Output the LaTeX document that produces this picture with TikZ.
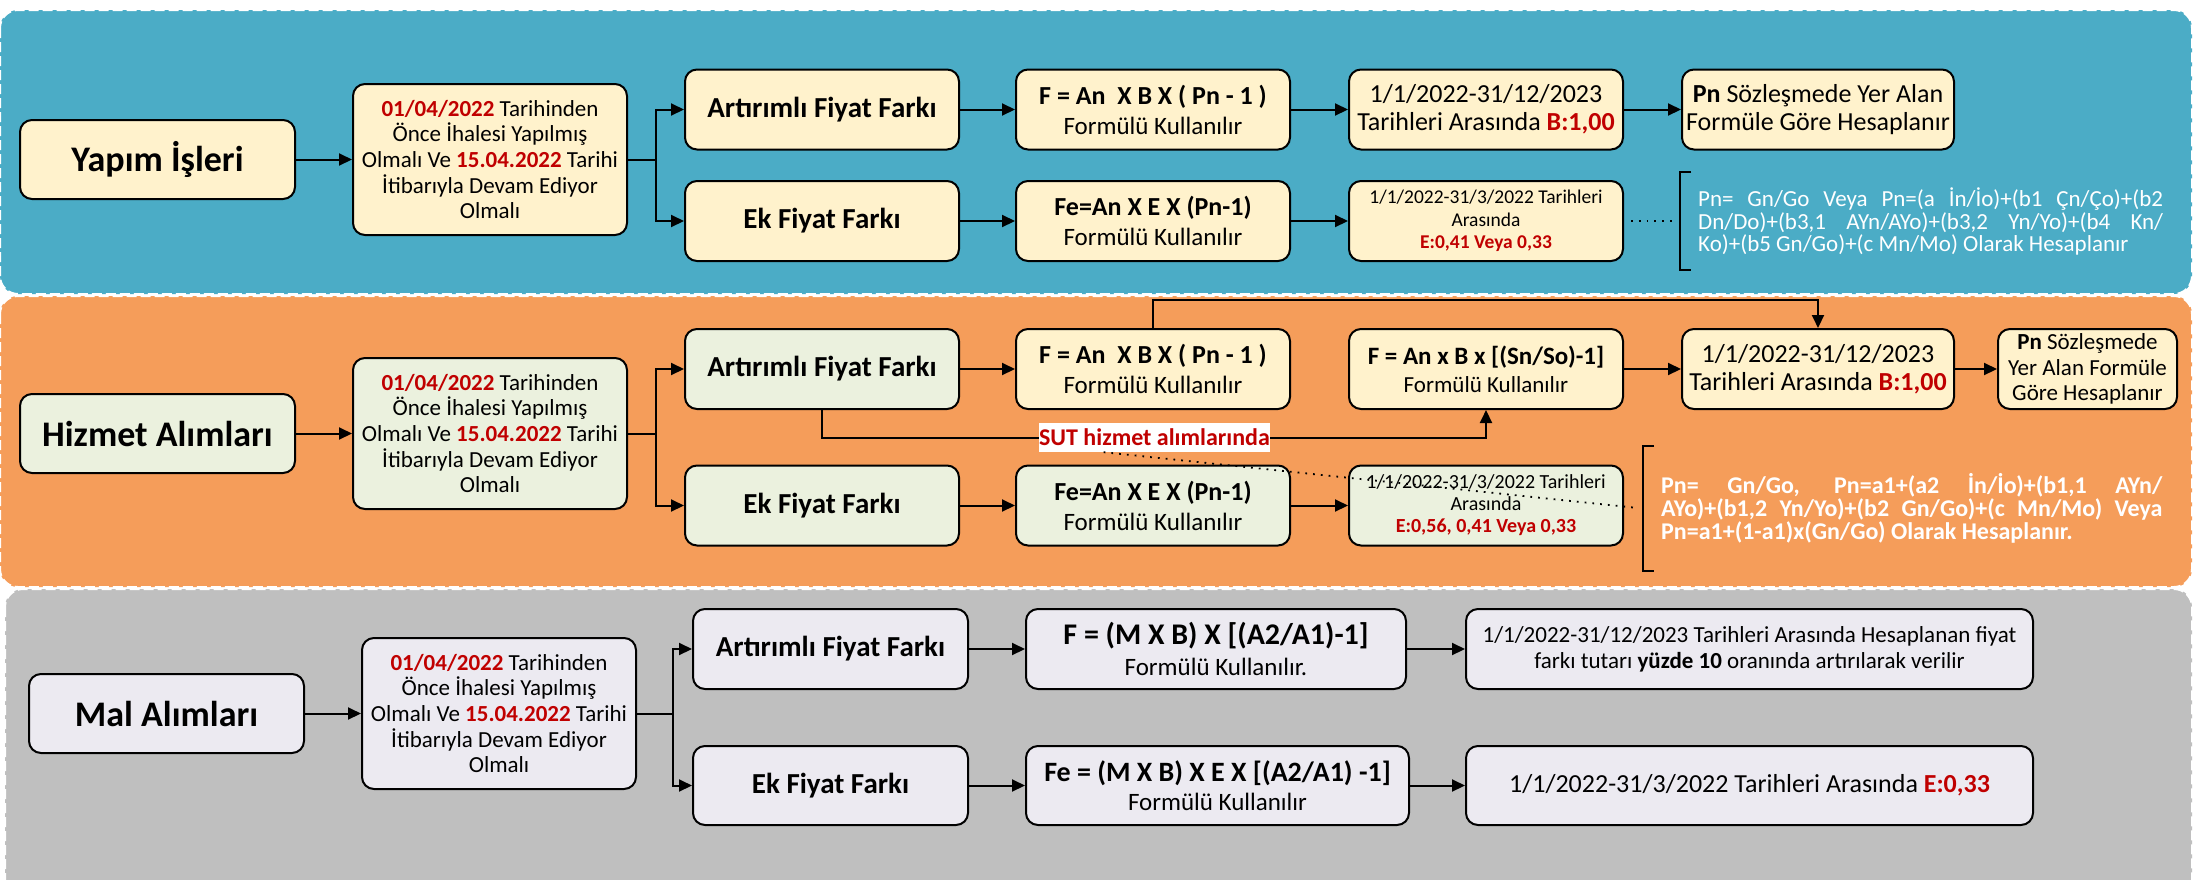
\documentclass[tikz,border=0pt]{standalone}
\usepackage{fontspec}
\setmainfont{Carlito}
\usetikzlibrary{arrows.meta,calc}
\definecolor{pblue}{HTML}{4BACC6}
\definecolor{porange}{HTML}{F59D5A}
\definecolor{pgray}{HTML}{BFBFBF}
\definecolor{fyel}{HTML}{FFF2CC}
\definecolor{fgrn}{HTML}{EBF1DE}
\definecolor{flav}{HTML}{ECEAF1}
\definecolor{dred}{HTML}{C00000}
\newcommand{\fs}[2]{\fontsize{#1}{#2}\selectfont}
\newcommand{\rd}[1]{{\bfseries\color{dred}#1}}
\begin{document}
\begin{tikzpicture}[x=1pt,y=-1pt,
  box/.style={draw=black, line width=2pt, rounded corners=12pt, align=center, inner sep=2pt},
  ttl/.style={box, minimum width=275pt, minimum height=79pt, font=\fs{36}{40}\bfseries},
  cond/.style={box, minimum width=274pt, minimum height=151pt, font=\fs{23}{25.7}},
  brn/.style={box, minimum width=274pt, minimum height=80pt, font=\fs{29}{32}\bfseries},
  frm/.style={box, minimum width=274pt, minimum height=80pt, font=\fs{25}{30}},
  arr/.style={line width=2pt, -{Triangle[length=13pt,width=12pt]}},
  panel/.style={draw=white, line width=2pt, dash pattern=on 10pt off 4pt, rounded corners=18pt},
  dots/.style={line width=1.8pt, dash pattern=on 1.8pt off 6pt},
  brk/.style={line width=2pt},
  ]
\useasboundingbox (0,0) rectangle (2196,879);
\fill[white] (0,0) rectangle (2196,879);
\begin{scope}
\clip (0,0) rectangle (2196,879);
\draw[panel, fill=pblue] (0,10) rectangle (2192,294);
\draw[panel, fill=porange] (0,296) rectangle (2192,587);
\draw[panel, fill=pgray] (5,589) rectangle (2192,905);
\end{scope}

% ---------- Row 1 : Yapim Isleri ----------
\node[ttl, fill=fyel] (r1T) at (157.5,159.5) {Yapım İşleri};
\node[cond, fill=fyel] (r1C) at (490,159.5) {\rd{01/04/2022} Tarihinden\\Önce İhalesi Yapılmış\\Olmalı Ve \rd{15.04.2022} Tarihi\\İtibarıyla Devam Ediyor\\Olmalı};
\node[brn, fill=fyel] (r1A) at (822,109.5) {Artırımlı Fiyat Farkı};
\node[brn, fill=fyel] (r1E) at (822,221) {Ek Fiyat Farkı};
\node[frm, fill=fyel] (r1F) at (1153,109.5) {{\fs{26}{30}\bfseries F = An\ \ X B X ( Pn - 1 )}\\Formülü Kullanılır};
\node[frm, fill=fyel] (r1Fe) at (1153,221) {{\fs{26}{30}\bfseries Fe=An X E X (Pn-1)}\\Formülü Kullanılır};
\node[frm, fill=fyel, font=\fs{26}{28}] (r1D1) at (1486,109.5) {1/1/2022-31/12/2023\\Tarihleri Arasında \rd{B:1,00}};
\node[frm, fill=fyel, font=\fs{19.5}{22.5}] (r1D2) at (1486,221) {1/1/2022-31/3/2022 Tarihleri\\Arasında\\\rd{E:0,41 Veya 0,33}};
\node[frm, fill=fyel, minimum width=272pt, font=\fs{26}{28}] (r1P) at (1818,109.5) {{\bfseries Pn} Sözleşmede Yer Alan\\Formüle Göre Hesaplanır};
\node[anchor=west, text=white, align=left, inner sep=0pt, font=\fs{23}{22.3}] (r1W) at (1698,221.5)
  {\makebox[465pt][s]{Pn= Gn/Go Veya Pn=(a İn/İo)+(b1 Çn/Ço)+(b2}\\
   \makebox[465pt][s]{Dn/Do)+(b3,1 AYn/AYo)+(b3,2 Yn/Yo)+(b4 Kn/}\\
   Ko)+(b5 Gn/Go)+(c Mn/Mo) Olarak Hesaplanır};
\coordinate (b1t) at (1691,172);
\coordinate (b1b) at (1691,270);
\coordinate (b1m) at (1676,221);
\draw[brk] (b1t) -- ++(-11,0) -- ++(0,98) -- (b1b);
\draw[arr] (r1T) -- (r1C);
\draw[arr] (r1C.east) -- ++(28,0) |- (r1A.west);
\draw[arr] (r1C.east) -- ++(28,0) |- (r1E.west);
\draw[arr] (r1A) -- (r1F);
\draw[arr] (r1E) -- (r1Fe);
\draw[arr] (r1F) -- (r1D1);
\draw[arr] (r1Fe) -- (r1D2);
\draw[arr] (r1D1) -- (r1P);
\draw[dots] ($(r1D2.east)+(7,0)$) -- (b1m);

% ---------- Row 2 : Hizmet Alimlari ----------
\node[ttl, fill=fgrn] (r2T) at (157.5,433.5) {Hizmet Alımları};
\node[cond, fill=fgrn] (r2C) at (490,433.5) {\rd{01/04/2022} Tarihinden\\Önce İhalesi Yapılmış\\Olmalı Ve \rd{15.04.2022} Tarihi\\İtibarıyla Devam Ediyor\\Olmalı};
\node[brn, fill=fgrn] (r2A) at (822,369) {Artırımlı Fiyat Farkı};
\node[brn, fill=fgrn] (r2E) at (822,505.5) {Ek Fiyat Farkı};
\node[frm, fill=fyel] (r2F) at (1153,369) {{\fs{26}{30}\bfseries F = An\ \ X B X ( Pn - 1 )}\\Formülü Kullanılır};
\node[frm, fill=fgrn] (r2Fe) at (1153,505.5) {{\fs{26}{30}\bfseries Fe=An X E X (Pn-1)}\\Formülü Kullanılır};
\node[frm, fill=fyel, font=\fs{23}{28}] (r2B) at (1486,369) {{\fs{25}{28}\bfseries F = An x B x [(Sn/So)-1]}\\Formülü Kullanılır};
\node[frm, fill=fyel, minimum width=272pt, font=\fs{26}{28}] (r2D1) at (1818,369) {1/1/2022-31/12/2023\\Tarihleri Arasında \rd{B:1,00}};
\node[frm, fill=fyel, minimum width=179pt, font=\fs{23}{25.5}] (r2P) at (2087.5,369) {{\bfseries Pn} Sözleşmede\\Yer Alan Formüle\\Göre Hesaplanır};
\node[frm, fill=fgrn, font=\fs{20}{22}] (r2D2) at (1486,505.5) {1/1/2022-31/3/2022 Tarihleri\\Arasında\\\rd{E:0,56, 0,41 Veya 0,33}};
\node[anchor=west, text=white, align=left, inner sep=0pt, font=\fs{24}{23}\bfseries] (r2W) at (1661,508)
  {\makebox[501pt][s]{Pn= Gn/Go, Pn=a1+(a2 İn/İo)+(b1,1 AYn/}\\
   \makebox[501pt][s]{AYo)+(b1,2 Yn/Yo)+(b2 Gn/Go)+(c Mn/Mo) Veya}\\
   Pn=a1+(1-a1)x(Gn/Go) Olarak Hesaplanır.};
\coordinate (b2t) at (1654,446);
\coordinate (b2b) at (1654,571);
\coordinate (b2m) at (1638,508);
\draw[brk] (b2t) -- ++(-11,0) -- ++(0,125) -- (b2b);
\coordinate (lblc) at (1154.5,437.5);
\draw[arr] (r2T) -- (r2C);
\draw[arr] (r2C.east) -- ++(28,0) |- (r2A.west);
\draw[arr] (r2C.east) -- ++(28,0) |- (r2E.west);
\draw[arr] (r2A) -- (r2F);
\draw[arr] (r2E) -- (r2Fe);
\draw[arr] (r2Fe) -- (r2D2);
\draw[arr] (r2B) -- (r2D1);
\draw[arr] (r2D1) -- (r2P);
\draw[arr] (r2F.north) -- ++(0,-28) -| (r2D1.north);
\draw[arr] (r2A.south) |- (lblc) -| (r2B.south);
\node[fill=white, inner sep=0pt, minimum width=231pt, minimum height=29pt, text=dred, font=\fs{24}{26}\bfseries] (lbl) at (lblc) {SUT hizmet alımlarında};
\draw[dots] ($(lbl.south west)!0.28!(lbl.south east)$) -- (b2m);

% ---------- Row 3 : Mal Alimlari ----------
\node[ttl, fill=flav] (r3T) at (166.5,713.5) {Mal Alımları};
\node[cond, fill=flav] (r3C) at (499,713.5) {\rd{01/04/2022} Tarihinden\\Önce İhalesi Yapılmış\\Olmalı Ve \rd{15.04.2022} Tarihi\\İtibarıyla Devam Ediyor\\Olmalı};
\node[brn, fill=flav, minimum width=275pt] (r3A) at (830.5,649) {Artırımlı Fiyat Farkı};
\node[brn, fill=flav, minimum width=275pt, minimum height=79pt] (r3E) at (830.5,785.5) {Ek Fiyat Farkı};
\node[frm, fill=flav, minimum width=380pt, font=\fs{25}{31}] (r3F) at (1216,649) {{\fs{30}{31}\bfseries F = (M X B) X [(A2/A1)-1]}\\Formülü Kullanılır.};
\node[frm, fill=flav, minimum width=383pt, minimum height=79pt, font=\fs{25}{29}] (r3Fe) at (1217.5,785.5) {{\fs{28}{29}\bfseries Fe = (M X B) X E X [(A2/A1) -1]}\\Formülü Kullanılır};
\node[frm, fill=flav, minimum width=567pt, font=\fs{23}{26}] (r3D1) at (1749.5,649) {1/1/2022-31/12/2023 Tarihleri Arasında Hesaplanan fiyat\\farkı tutarı {\bfseries yüzde 10} oranında artırılarak verilir};
\node[frm, fill=flav, minimum width=567pt, minimum height=79pt, font=\fs{26}{28}] (r3D2) at (1749.5,785.5) {1/1/2022-31/3/2022 Tarihleri Arasında \rd{E:0,33}};
\draw[arr] (r3T) -- (r3C);
\draw[arr] (r3C.east) -- ++(36,0) |- (r3A.west);
\draw[arr] (r3C.east) -- ++(36,0) |- (r3E.west);
\draw[arr] (r3A) -- (r3F);
\draw[arr] (r3E) -- (r3Fe);
\draw[arr] (r3F) -- (r3D1);
\draw[arr] (r3Fe) -- (r3D2);
\end{tikzpicture}
\end{document}
